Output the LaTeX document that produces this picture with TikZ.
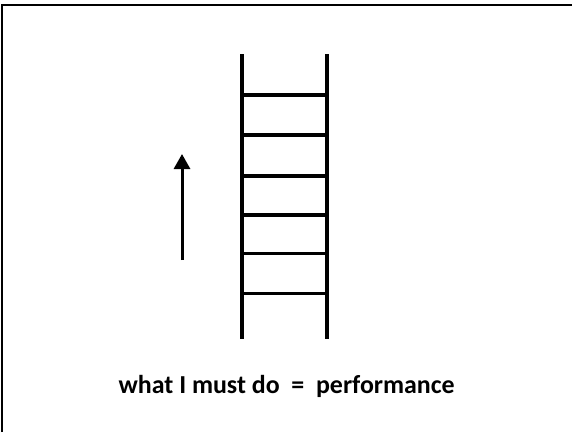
\documentclass[tikz,border=0pt]{standalone}
\usepackage{fontspec}
\setmainfont{Carlito}
\usetikzlibrary{arrows.meta}
\begin{document}
\begin{tikzpicture}[x=1bp,y=-1bp,
  frameline/.style={line width=2bp,black},
  rail/.style={line width=4bp,black},
  rung/.style={line width=3.5bp,black},
  uparrow/.style={line width=3bp,black,-{Triangle[width=16bp,length=15bp]}},
  caption/.style={font=\fontsize{26}{30}\selectfont\bfseries,inner sep=0pt,anchor=base}]
\useasboundingbox (0,0) rectangle (572,432);
% frame (only top and left edges are visible)
\coordinate (fbl) at (2,432);
\coordinate (ftl) at (2,5);
\coordinate (ftr) at (572,5);
\draw[frameline] (fbl) -- (ftl) -- (ftr);
% ladder rails
\coordinate (lt) at (242.3,54);
\coordinate (lb) at (242.3,338.5);
\coordinate (rt) at (327.3,54);
\coordinate (rb) at (327.3,338.5);
\draw[rail] (lt) -- (lb);
\draw[rail] (rt) -- (rb);
% rungs
\foreach \i/\y in {1/95,2/135,3/176,4/215,5/253.5,6/293.3}{
  \coordinate (rl\i) at (242.3,\y);
  \coordinate (rr\i) at (327.3,\y);
  \draw[rung] (rl\i) -- (rr\i);
}
% arrow
\coordinate (abot) at (182,260);
\coordinate (atop) at (182,154);
\draw[uparrow] (abot) -- (atop);
% caption
\node[caption] (cap) at (286.7,393) {what I must do\ \ =\ \ performance};
\end{tikzpicture}
\end{document}
